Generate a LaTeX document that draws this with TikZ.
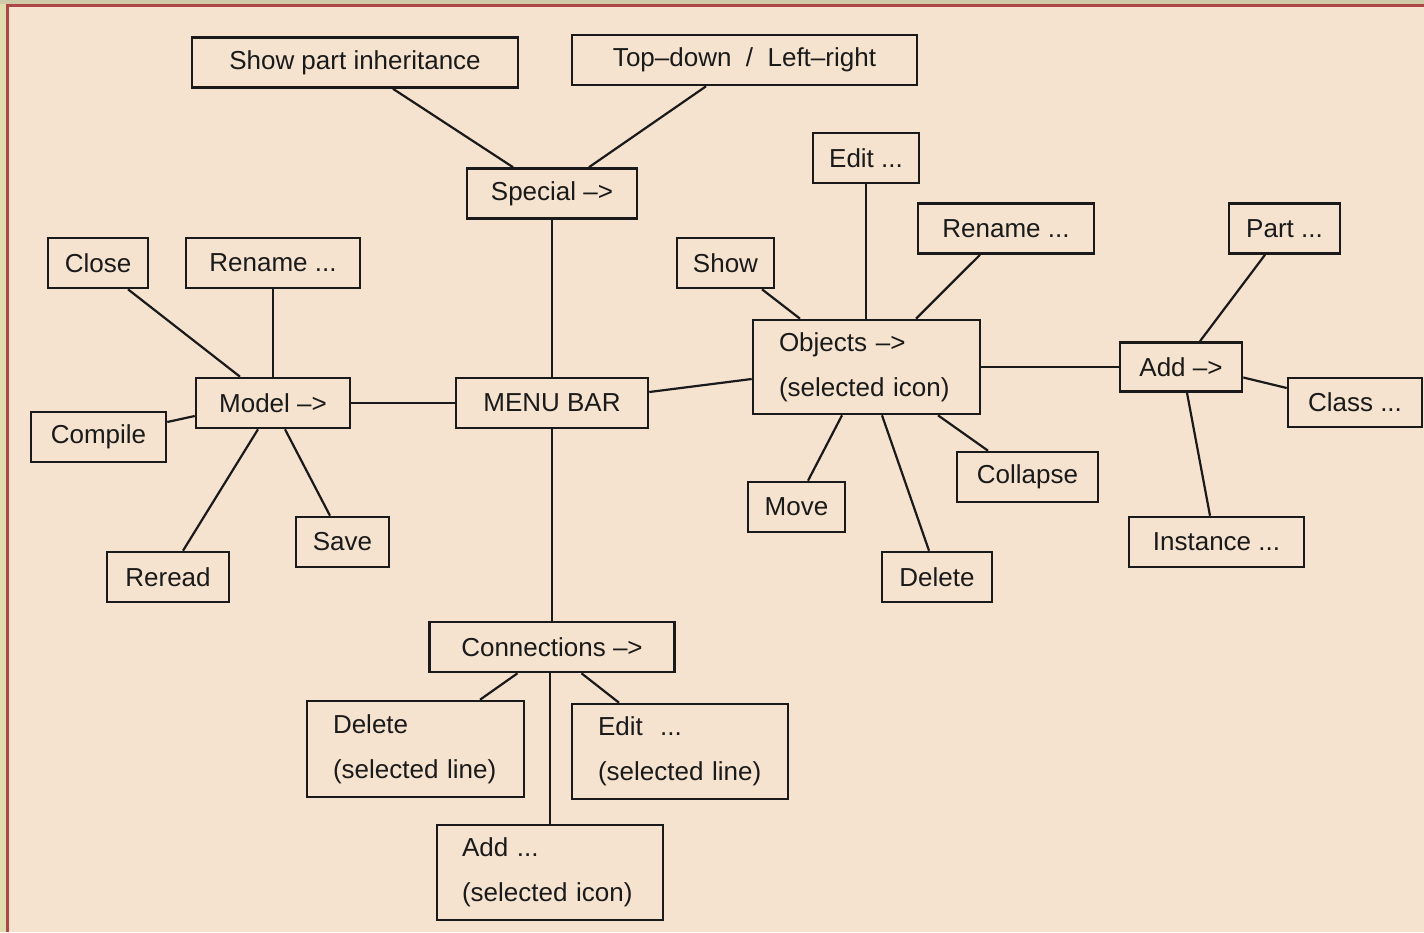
\documentclass[tikz,border=0pt]{standalone}
\usepackage{fontspec}
\setmainfont{Liberation Sans}
\definecolor{paper}{HTML}{F5E3CF}
\definecolor{rim}{HTML}{CFCAA8}
\definecolor{rimside}{HTML}{E0DCAE}
\definecolor{redline}{HTML}{AD4646}
\definecolor{ink}{HTML}{1A1A1A}
\tikzset{
  box/.style={draw=ink, line width=2.6pt, inner sep=0pt, minimum height=50pt,
    text=ink, font=\fontsize{26}{31}\selectfont},
  twoline/.style={box, align=left, inner xsep=26pt, minimum height=95pt,
    font=\fontsize{26}{45}\selectfont},
  link/.style={draw=ink, line width=2.2pt}
}
\begin{document}
\begin{tikzpicture}[x=1pt, y=-1pt]
  % page and frame
  \fill[paper] (0,0) rectangle (1424,932);
  \useasboundingbox (0,0) rectangle (1424,932);
  \fill[rim] (0,0) rectangle (1424,4);
  \fill[rimside] (0,4) rectangle (6,932);
  \fill[redline] (6,4) rectangle (1424,7);
  \fill[redline] (6,4) rectangle (9,932);

  % top row
  \node[box, minimum width=326pt] (spi) at (355,62.5) {Show part inheritance};
  \node[box, minimum width=345pt] (tdl) at (744.5,60) {Top–down\ \ /\ \ Left–right};
  \node[box, minimum width=170pt] (special) at (552,193.5) {Special –>};

  % model branch
  \node[box, minimum width=100pt] (close) at (98,263) {Close};
  \node[box, minimum width=174pt] (renl) at (273,263) {Rename ...};
  \node[box, minimum width=154pt] (model) at (273,403) {Model –>};
  \node[box, minimum width=135pt] (compile) at (98.5,437) {Compile};
  \node[box, minimum width=93pt] (save) at (342.5,542) {Save};
  \node[box, minimum width=122pt] (reread) at (168,577) {Reread};

  % centre
  \node[box, minimum width=192pt] (menubar) at (552,403) {MENU BAR};

  % objects branch
  \node[box, minimum width=106pt] (edit) at (866,158) {Edit ...};
  \node[box, minimum width=176pt] (renr) at (1006,228.5) {Rename ...};
  \node[box, minimum width=97pt] (show) at (725.5,263) {Show};
  \node[twoline, minimum height=94pt, text width=175pt] (objects) at (866.5,367)
    {Objects –>\\(selected icon)};
  \node[box, minimum width=141pt] (collapse) at (1027.5,477) {Collapse};
  \node[box, minimum width=97pt] (move) at (796.5,507) {Move};
  \node[box, minimum width=110pt] (delete) at (937,577) {Delete};

  % add branch
  \node[box, minimum width=111pt] (part) at (1284.5,228.5) {Part ...};
  \node[box, minimum width=122pt, minimum height=49pt] (add) at (1181,367) {Add –>};
  \node[box, minimum width=134pt, minimum height=49pt] (class) at (1355,402.5) {Class ...};
  \node[box, minimum width=175pt] (instance) at (1216.5,542) {Instance ...};

  % connections branch
  \node[box, minimum width=245pt] (conn) at (552,647) {Connections –>};
  \node[twoline, minimum height=96pt, text width=165pt] (delsel) at (415.5,749)
    {Delete\\(selected line)};
  \node[twoline, text width=164pt] (editsel) at (680,751.5)
    {Edit\ \ ...\\(selected line)};
  \node[twoline, inner xsep=25pt, text width=176pt] (addsel) at (550,872.5)
    {Add ...\\(selected icon)};

  % connectors
  \draw[link] ([xshift=38pt]spi.south) -- ([xshift=-39pt]special.north);
  \draw[link] ([xshift=-38.5pt]tdl.south) -- ([xshift=37pt]special.north);
  \draw[link] (special.south) -- (menubar.north);
  \draw[link] (menubar.south) -- (conn.north);
  \draw[link] ([yshift=11pt]menubar.east) -- ([yshift=-12pt]objects.west);
  \draw[link] (model.east) -- (menubar.west);

  \draw[link] ([xshift=30pt]close.south) -- ([xshift=-33pt]model.north);
  \draw[link] (renl.south) -- (model.north);
  \draw[link] ([yshift=15pt]compile.east) -- ([yshift=-13pt]model.west);
  \draw[link] ([xshift=-15pt]model.south) -- ([xshift=15pt]reread.north);
  \draw[link] ([xshift=12pt]model.south) -- ([xshift=-12.5pt]save.north);

  \draw[link] ([xshift=36.5pt]show.south) -- ([xshift=-66.5pt]objects.north);
  \draw[link] (edit.south) -- (edit.south |- objects.north);
  \draw[link] ([xshift=-26pt]renr.south) -- ([xshift=49.5pt]objects.north);
  \draw[link] (objects.east) -- (add.west);
  \draw[link] ([xshift=-24.5pt]objects.south) -- ([xshift=11.5pt]move.north);
  \draw[link] ([xshift=15.5pt]objects.south) -- ([xshift=-8pt]delete.north);
  \draw[link] ([xshift=71.5pt]objects.south) -- ([xshift=-39.5pt]collapse.north);

  \draw[link] ([xshift=19pt]add.north) -- ([xshift=-19.5pt]part.south);
  \draw[link] ([yshift=-10.5pt]add.east) -- ([yshift=14.5pt]class.west);
  \draw[link] ([xshift=6pt]add.south) -- ([xshift=-6.5pt]instance.north);

  \draw[link] ([xshift=-34.5pt]conn.south) -- ([xshift=64.5pt]delsel.north);
  \draw[link] ([xshift=29.5pt]conn.south) -- ([xshift=-61pt]editsel.north);
  \draw[link] ([xshift=-2pt]conn.south) -- (addsel.north);
\end{tikzpicture}
\end{document}
